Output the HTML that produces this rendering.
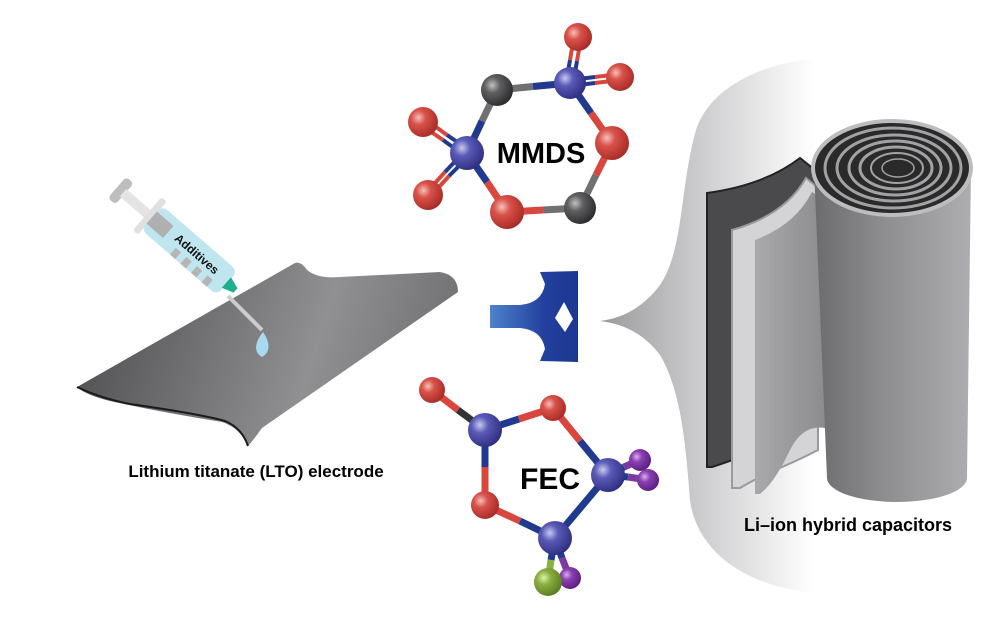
<!DOCTYPE html>
<html><head><meta charset="utf-8"><style>
html,body{margin:0;padding:0;background:#fff}
svg{display:block}
text{font-family:"Liberation Sans",Arial,sans-serif;font-weight:bold}
</style></head><body>
<svg width="1005" height="636" viewBox="0 0 1005 636" xmlns="http://www.w3.org/2000/svg">
<defs>
<linearGradient id="fun" x1="600" y1="0" x2="815" y2="0" gradientUnits="userSpaceOnUse"><stop offset="0" stop-color="#9a9a9d"/><stop offset="0.5" stop-color="#d0d0d2"/><stop offset="1" stop-color="#fff"/></linearGradient>
<linearGradient id="cyl" x1="815" y1="0" x2="970" y2="0" gradientUnits="userSpaceOnUse"><stop offset="0" stop-color="#6c6c6f"/><stop offset="0.45" stop-color="#8e8e91"/><stop offset="1" stop-color="#adadb0"/></linearGradient>
<linearGradient id="gl" x1="755" y1="0" x2="830" y2="0" gradientUnits="userSpaceOnUse"><stop offset="0" stop-color="#a9a9ac"/><stop offset="1" stop-color="#8a8a8d"/></linearGradient>
<linearGradient id="el" x1="80" y1="300" x2="460" y2="420" gradientUnits="userSpaceOnUse"><stop offset="0" stop-color="#4e4e50"/><stop offset="0.6" stop-color="#909093"/><stop offset="1" stop-color="#6a6a6d"/></linearGradient>
<linearGradient id="arr" x1="490" y1="0" x2="580" y2="0" gradientUnits="userSpaceOnUse"><stop offset="0" stop-color="#4f82cc"/><stop offset="0.6" stop-color="#22409e"/><stop offset="1" stop-color="#1c3690"/></linearGradient>
<radialGradient id="rO" cx="0.35" cy="0.35" r="0.7"><stop offset="0" stop-color="#f6c0b8"/><stop offset="0.35" stop-color="#d8524a"/><stop offset="1" stop-color="#a82a25"/></radialGradient>
<radialGradient id="rS" cx="0.35" cy="0.35" r="0.7"><stop offset="0" stop-color="#c8c8f0"/><stop offset="0.35" stop-color="#5a5ab8"/><stop offset="1" stop-color="#2e2e80"/></radialGradient>
<radialGradient id="rC" cx="0.35" cy="0.35" r="0.7"><stop offset="0" stop-color="#c0c0c0"/><stop offset="0.35" stop-color="#606062"/><stop offset="1" stop-color="#2a2a2c"/></radialGradient>
<radialGradient id="rF" cx="0.35" cy="0.35" r="0.7"><stop offset="0" stop-color="#d8b0f0"/><stop offset="0.35" stop-color="#8a40b0"/><stop offset="1" stop-color="#5a1e80"/></radialGradient>
<radialGradient id="rG" cx="0.35" cy="0.35" r="0.7"><stop offset="0" stop-color="#e0f0b0"/><stop offset="0.35" stop-color="#8cb040"/><stop offset="1" stop-color="#5a7a20"/></radialGradient>
</defs>

<!-- funnel -->
<path d="M830,58 C780,58 712,80 696,130 C680,185 684,250 660,285 C645,305 625,318 600,321 C625,324 645,335 660,355 C682,392 686,450 690,500 C698,560 760,592 830,594 L1005,594 L1005,58 Z" fill="url(#fun)"/>

<!-- sheets -->
<path d="M707,193 Q765,185 800,158 L815,170 L815,420 Q790,430 775,440 Q750,455 712,467 L707,467 Z" fill="#4a4a4c" stroke="#222" stroke-width="2"/>
<path d="M732,230 Q785,215 806,178 L818,188 L818,450 Q795,462 770,472 Q750,482 740,488 L732,488 Z" fill="#d4d4d6" stroke="#9a9a9c" stroke-width="2"/>
<path d="M755,240 Q795,225 812,192 L832,205 L832,430 Q805,420 790,450 Q775,482 760,494 L755,494 Z" fill="url(#gl)"/>
<!-- cylinder -->
<path d="M814,168 L827,478 A70,24 0 0 0 967,478 L971,168 Z" fill="url(#cyl)"/>
<ellipse cx="892" cy="168" rx="79" ry="47" fill="#2a2a2a" stroke="#bdbdc0" stroke-width="4"/>
<g fill="none" stroke="#a2a2a5" stroke-width="3">
<ellipse cx="893" cy="168" rx="68" ry="40"/>
<ellipse cx="894" cy="168" rx="57" ry="33"/>
<ellipse cx="895" cy="168" rx="46" ry="27"/>
<ellipse cx="896" cy="168" rx="36" ry="21"/>
<ellipse cx="897" cy="168" rx="26" ry="15" stroke-width="2"/>
<ellipse cx="898" cy="168" rx="16" ry="9" stroke-width="1.5"/>
</g>
<text x="848" y="531" font-size="18" text-anchor="middle">Li–ion hybrid capacitors</text>

<!-- electrode -->
<path d="M77,387 L295,263 Q301,261 307,270 Q318,279 340,277 L440,272 Q458,275 458,292 L262,428 Q255,438 248,446 Q240,428 222,422 Q160,412 110,401 Q86,395 77,387 Z" fill="url(#el)"/>
<path d="M77,387 Q100,398 130,404 Q200,414 225,421 Q242,428 248,446" fill="none" stroke="#1a1a1a" stroke-width="2"/>
<text x="256" y="477" font-size="17" text-anchor="middle">Lithium titanate (LTO) electrode</text>

<!-- syringe -->
<line x1="228" y1="296" x2="262" y2="330" stroke="#ccc" stroke-width="4"/>
<path d="M263,332 C255,342 253,352 262,357 C271,352 270,342 263,332 Z" fill="#a7daee"/>
<g transform="translate(120,190) rotate(41)">
<rect x="-4" y="-14" width="10" height="28" rx="4" fill="#bdbdbd"/>
<rect x="4" y="-5" width="36" height="10" fill="#e4e4e4"/>
<rect x="36" y="-22" width="7" height="44" rx="3" fill="#e0e0e0"/>
<rect x="42" y="-16" width="100" height="32" rx="7" fill="#bfe6ee"/>
<rect x="42" y="-8" width="22" height="16" fill="#b0b0b0"/>
<g fill="#b5b5b5"><rect x="80" y="7" width="7" height="9"/><rect x="94" y="7" width="7" height="9"/><rect x="108" y="7" width="7" height="9"/><rect x="122" y="7" width="7" height="9"/></g>
<polygon points="141,-7 141,7 153,3 153,-3" fill="#1fae8e"/>
<text x="100" y="2" font-size="12" text-anchor="middle" fill="#111">Additives</text>
</g>

<!-- arrow -->
<path d="M490,305 L520,305 Q542,303 545,284 L540,272 L578,271 L578,362 L540,361 L545,349 Q542,330 520,328 L490,328 Z" fill="url(#arr)"/>
<polygon points="564,302 573,319 565,332 555,318" fill="#fff"/>

<!-- MMDS bonds -->
<g stroke-width="7" stroke-linecap="butt">
<line x1="497" y1="90" x2="533" y2="86.5" stroke="#707072"/><line x1="533" y1="86.5" x2="570" y2="83" stroke="#1f3a8f"/>
<line x1="566" y1="83" x2="570" y2="60" stroke="#1f3a8f" stroke-width="4"/><line x1="570" y1="60" x2="574" y2="37" stroke="#d8463e" stroke-width="4"/>
<line x1="573" y1="84" x2="577" y2="61" stroke="#1f3a8f" stroke-width="4"/><line x1="577" y1="61" x2="581" y2="38" stroke="#d8463e" stroke-width="4"/>
<line x1="570" y1="80" x2="595" y2="77" stroke="#1f3a8f" stroke-width="4"/><line x1="595" y1="77" x2="620" y2="74" stroke="#d8463e" stroke-width="4"/>
<line x1="570" y1="86" x2="595" y2="83" stroke="#1f3a8f" stroke-width="4"/><line x1="595" y1="83" x2="620" y2="80" stroke="#d8463e" stroke-width="4"/>
<line x1="570" y1="83" x2="591" y2="113" stroke="#1f3a8f"/><line x1="591" y1="113" x2="612" y2="143" stroke="#d8463e"/>
<line x1="612" y1="143" x2="596" y2="175" stroke="#d8463e"/><line x1="596" y1="175" x2="580" y2="208" stroke="#707072"/>
<line x1="580" y1="208" x2="543" y2="210" stroke="#707072"/><line x1="543" y1="210" x2="507" y2="212" stroke="#d8463e"/>
<line x1="507" y1="212" x2="487" y2="182" stroke="#d8463e"/><line x1="487" y1="182" x2="467" y2="153" stroke="#1f3a8f"/>
<line x1="469" y1="150" x2="447" y2="135" stroke="#1f3a8f" stroke-width="4"/><line x1="447" y1="135" x2="425" y2="119" stroke="#d8463e" stroke-width="4"/>
<line x1="465" y1="156" x2="443" y2="140" stroke="#1f3a8f" stroke-width="4"/><line x1="443" y1="140" x2="421" y2="125" stroke="#d8463e" stroke-width="4"/>
<line x1="469" y1="156" x2="449" y2="176" stroke="#1f3a8f" stroke-width="4"/><line x1="449" y1="176" x2="430" y2="197" stroke="#d8463e" stroke-width="4"/>
<line x1="465" y1="151" x2="445" y2="172" stroke="#1f3a8f" stroke-width="4"/><line x1="445" y1="172" x2="426" y2="193" stroke="#d8463e" stroke-width="4"/>
<line x1="467" y1="153" x2="482" y2="121" stroke="#1f3a8f"/><line x1="482" y1="121" x2="497" y2="90" stroke="#707072"/>
</g>
<circle cx="578" cy="37" r="14" fill="url(#rO)"/>
<circle cx="620" cy="77" r="14" fill="url(#rO)"/>
<circle cx="570" cy="83" r="16" fill="url(#rS)"/>
<circle cx="497" cy="90" r="16" fill="url(#rC)"/>
<circle cx="423" cy="122" r="15" fill="url(#rO)"/>
<circle cx="428" cy="195" r="15" fill="url(#rO)"/>
<circle cx="467" cy="153" r="17" fill="url(#rS)"/>
<circle cx="612" cy="143" r="17" fill="url(#rO)"/>
<circle cx="507" cy="212" r="17" fill="url(#rO)"/>
<circle cx="580" cy="208" r="16" fill="url(#rC)"/>
<text x="541" y="163" font-size="29" text-anchor="middle">MMDS</text>

<!-- FEC bonds -->
<g stroke-width="7">
<line x1="432" y1="390" x2="458" y2="410" stroke="#d8463e"/><line x1="458" y1="410" x2="485" y2="430" stroke="#333"/>
<line x1="485" y1="430" x2="519" y2="419" stroke="#1f3a8f"/><line x1="519" y1="419" x2="553" y2="408" stroke="#d8463e"/>
<line x1="553" y1="408" x2="580" y2="441" stroke="#d8463e"/><line x1="580" y1="441" x2="608" y2="475" stroke="#1f3a8f"/>
<line x1="485" y1="430" x2="485" y2="467" stroke="#1f3a8f"/><line x1="485" y1="467" x2="485" y2="505" stroke="#d8463e"/>
<line x1="485" y1="505" x2="520" y2="521" stroke="#d8463e"/><line x1="520" y1="521" x2="555" y2="538" stroke="#1f3a8f"/>
<line x1="555" y1="538" x2="608" y2="475" stroke="#1f3a8f"/>
<line x1="608" y1="475" x2="624" y2="467" stroke="#1f3a8f"/><line x1="624" y1="467" x2="640" y2="460" stroke="#7a3aa0"/>
<line x1="608" y1="475" x2="628" y2="477" stroke="#1f3a8f"/><line x1="628" y1="477" x2="648" y2="480" stroke="#7a3aa0"/>
<line x1="555" y1="538" x2="551" y2="560" stroke="#1f3a8f"/><line x1="551" y1="560" x2="548" y2="582" stroke="#8cb040"/>
<line x1="555" y1="538" x2="562" y2="558" stroke="#1f3a8f"/><line x1="562" y1="558" x2="570" y2="578" stroke="#7a3aa0"/>
</g>
<circle cx="432" cy="390" r="13" fill="url(#rO)"/>
<circle cx="485" cy="430" r="17" fill="url(#rS)"/>
<circle cx="553" cy="408" r="13" fill="url(#rO)"/>
<circle cx="640" cy="460" r="11" fill="url(#rF)"/>
<circle cx="648" cy="480" r="11" fill="url(#rF)"/>
<circle cx="608" cy="475" r="17" fill="url(#rS)"/>
<circle cx="485" cy="505" r="14" fill="url(#rO)"/>
<circle cx="570" cy="578" r="11" fill="url(#rF)"/>
<circle cx="555" cy="538" r="17" fill="url(#rS)"/>
<circle cx="548" cy="582" r="14" fill="url(#rG)"/>
<text x="550" y="489" font-size="30" text-anchor="middle">FEC</text>
</svg>
</body></html>
